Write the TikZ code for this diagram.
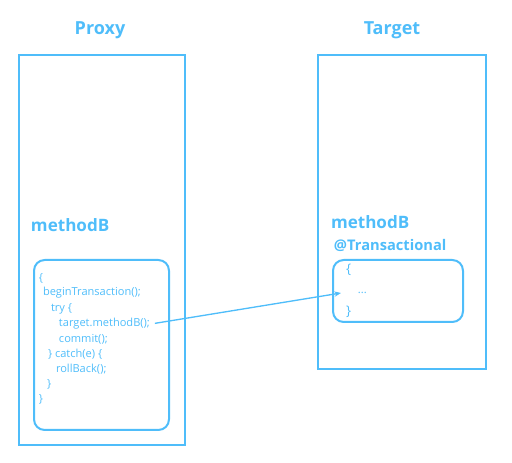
\documentclass[tikz,border=0pt]{standalone}
\usepackage{fontspec}
\setmainfont{Open Sans}
\usetikzlibrary{arrows.meta}
\definecolor{skyblue}{RGB}{79,189,250}

\begin{document}
\begin{tikzpicture}[x=0.75pt, y=-0.75pt, line width=1.5pt, draw=skyblue, text=skyblue,
        box/.style = {draw=skyblue},
        inner/.style = {draw=skyblue, rounded corners=8pt},
        title/.style = {font=\bfseries\fontsize{13.5}{15}\selectfont},
        meth/.style = {anchor=west, font=\bfseries\fontsize{12.8}{14}\selectfont, inner sep=0pt},
        code/.style = {anchor=west, font=\fontsize{8.3}{9}\selectfont, inner sep=0pt}]

        \useasboundingbox (0,0) rectangle (512,463);

        % outer boxes
        \draw[box] (19,55) rectangle (185,445);
        \draw[box] (318,55) rectangle (486,369);
        \node[title] (proxy) at (100,30) {Proxy};
        \node[title] (target) at (392,30) {Target};

        % method names
        \node[meth] (pm) at (30,225) {methodB};
        \node[meth] (tm) at (330,222) {methodB};
        \node[meth, font=\bfseries\fontsize{11}{12}\selectfont] (ta) at (333,245) {@Transactional};

        % bodies
        \draw[inner] (34,260) rectangle (169,430);
        \draw[inner] (333,260) rectangle (463,322);

        % proxy code
        \node[code] (c1) at (38,278) {\{};
        \node[code] (c2) at (42,293) {beginTransaction();};
        \node[code] (c3) at (50,309) {try \{};
        \node[code] (c4) at (58,324) {target.methodB();};
        \node[code] (c5) at (58,339) {commit();};
        \node[code] (c6) at (47,354) {\} catch(e) \{};
        \node[code] (c7) at (55,369) {rollBack();};
        \node[code] (c8) at (46,384) {\}};
        \node[code] (c9) at (38,399) {\}};

        % target code
        \node[code, font=\fontsize{10}{11}\selectfont] (t1) at (345,270) {\{};
        \node[code] (t2) at (357,293) {...};
        \node[code, font=\fontsize{10}{11}\selectfont] (t3) at (345,312) {\}};

        \draw[line width=1pt, -{Stealth[length=5pt, width=4pt]}, shorten <=3pt] (c4.east) -- ([xshift=-12pt]t2.west);

\end{tikzpicture}
\end{document}
